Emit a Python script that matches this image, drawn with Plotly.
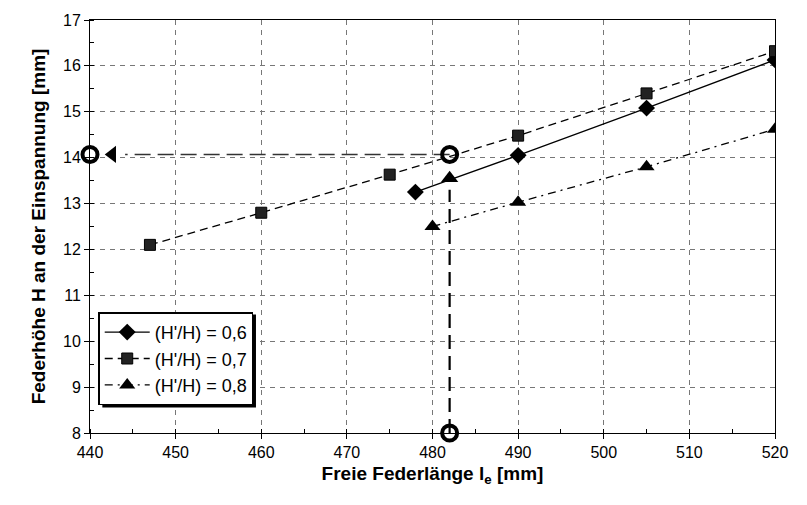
import plotly.graph_objects as go

# Measured spring heights for three height ratios H'/H
x_06 = [478, 490, 505, 520]
y_06 = [13.25, 14.05, 15.08, 16.13]

x_07 = [447, 460, 475, 490, 505, 520]
y_07 = [12.1, 12.8, 13.63, 14.48, 15.4, 16.32]

x_08 = [480, 490, 505, 520]
y_08 = [12.5, 13.03, 13.8, 14.62]

series_names = ["(H'/H) = 0,6", "(H'/H) = 0,7", "(H'/H) = 0,8"]

# Reading example: free length 482 mm -> height ~14.07 mm
read_len = 482
read_height = 14.07
read_start_height = 13.55   # where the read line leaves the 0,6 curve
axis_x_min, axis_x_max = 440, 520
axis_y_min, axis_y_max = 8, 17
arrow_tip_x = 442.6

x_ticks = list(range(440, 521, 10))
y_ticks = list(range(8, 18))

font = "Liberation Sans, Arial, sans-serif"

fig = go.Figure()

fig.add_trace(go.Scatter(
    x=x_06, y=y_06, name=series_names[0], mode="lines+markers",
    line=dict(color="black", width=1.3, dash="solid"),
    marker=dict(symbol="diamond", size=13, color="black"),
))
fig.add_trace(go.Scatter(
    x=x_07, y=y_07, name=series_names[1], mode="lines+markers",
    line=dict(color="black", width=1.3, dash="8px,5px"),
    marker=dict(symbol="square", size=11, color="#222222",
                line=dict(color="black", width=1)),
))
fig.add_trace(go.Scatter(
    x=x_08, y=y_08, name=series_names[2], mode="lines+markers",
    line=dict(color="black", width=1.3, dash="8px,5px,2px,5px"),
    marker=dict(symbol="triangle-up", size=14, color="black"),
))

# Read-off path: up from the length axis, then left to the height axis
fig.add_trace(go.Scatter(
    x=[read_len, read_len], y=[axis_y_min, read_start_height - 0.25],
    mode="lines", showlegend=False, hoverinfo="skip",
    line=dict(color="black", width=2.2, dash="14px,7px"),
))
fig.add_trace(go.Scatter(
    x=[read_len, arrow_tip_x + 1.5], y=[read_height, read_height],
    mode="lines", showlegend=False, hoverinfo="skip",
    line=dict(color="#333333", width=1.5, dash="16px,7px"),
))
fig.add_trace(go.Scatter(
    x=[read_len], y=[read_start_height], mode="markers",
    showlegend=False, hoverinfo="skip",
    marker=dict(symbol="triangle-up", size=15, color="black"),
))
fig.add_trace(go.Scatter(
    x=[arrow_tip_x], y=[read_height], mode="markers",
    showlegend=False, hoverinfo="skip",
    marker=dict(symbol="triangle-left", size=15, color="black"),
))
fig.add_trace(go.Scatter(
    x=[read_len, read_len, axis_x_min], y=[axis_y_min, read_height, read_height],
    mode="markers", showlegend=False, hoverinfo="skip", cliponaxis=False,
    marker=dict(symbol="circle-open", size=15, color="black",
                line=dict(color="black", width=4)),
))

# Drop shadow behind the legend box
fig.add_shape(type="rect", xref="paper", yref="paper",
              x0=0.018, x1=0.2423, y0=0.062, y1=0.287,
              fillcolor="black", line=dict(width=0), layer="above")

fig.update_layout(
    width=807, height=505,
    margin=dict(l=90, r=32, t=15, b=72),
    paper_bgcolor="white", plot_bgcolor="white",
    font=dict(family=font, size=16, color="black"),
    showlegend=True,
    legend=dict(
        x=0.012, y=0.292, xanchor="left", yanchor="top",
        bgcolor="white", bordercolor="black", borderwidth=1.5,
        font=dict(family=font, size=18, color="black"),
        tracegroupgap=0, itemwidth=45,
    ),
    xaxis=dict(
        range=[axis_x_min, axis_x_max], tickvals=x_ticks,
        showline=True, linecolor="black", linewidth=1, mirror=True,
        ticks="outside", ticklen=5, tickcolor="black",
        showgrid=True, gridcolor="#777777", gridwidth=1, griddash="5px,5px",
        zeroline=False,
        minor=dict(dtick=5, ticks="inside", ticklen=4, tickcolor="black", showgrid=False),
        tickfont=dict(family=font, size=16),
        title=dict(text="<b>Freie Federlänge l<sub>e</sub> [mm]</b>",
                   font=dict(family=font, size=19), standoff=6),
    ),
    yaxis=dict(
        range=[axis_y_min, axis_y_max], tickvals=y_ticks,
        showline=True, linecolor="black", linewidth=1, mirror=True,
        ticks="outside", ticklen=5, tickcolor="black",
        showgrid=True, gridcolor="#777777", gridwidth=1, griddash="5px,5px",
        zeroline=False,
        minor=dict(dtick=0.5, ticks="inside", ticklen=4, tickcolor="black", showgrid=False),
        tickfont=dict(family=font, size=16),
        title=dict(text="<b>Federhöhe H an der Einspannung [mm]</b>",
                   font=dict(family=font, size=19), standoff=12),
    ),
)

fig.write_html("out.html")
